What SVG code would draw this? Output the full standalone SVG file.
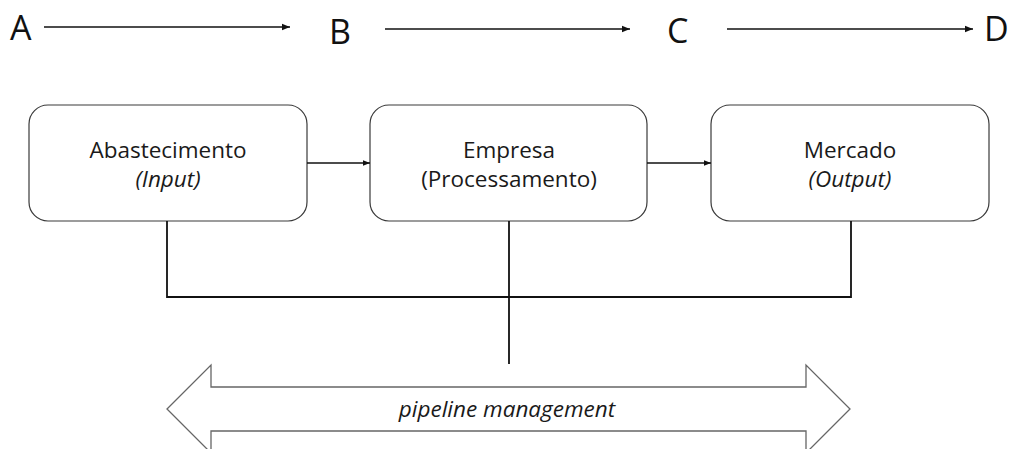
<svg xmlns="http://www.w3.org/2000/svg" width="1009" height="449" viewBox="0 0 1009 449">
  <style>
    .box { fill: #ffffff; stroke: #3a3a3a; stroke-width: 1.2; }
    .lbl { font-family: "Open Sans", "Liberation Sans", sans-serif; font-size: 22.5px; fill: #1a1a1a; text-anchor: middle; }
    .it { font-style: italic; }
    .big { font-family: "Open Sans", "Liberation Sans", sans-serif; font-size: 34px; fill: #111111; }
    .flow { stroke: #111111; stroke-width: 1.5; fill: none; }
    .link { stroke: #111111; stroke-width: 1.8; fill: none; }
  </style>
  <defs>
    <marker id="head" viewBox="0 0 10 10" refX="10" refY="5" markerWidth="7" markerHeight="7" orient="auto" markerUnits="userSpaceOnUse">
      <path d="M0,1 L10,5 L0,9 z" fill="#111111"/>
    </marker>
    <marker id="headL" viewBox="0 0 10 10" refX="10" refY="5" markerWidth="9" markerHeight="8" orient="auto" markerUnits="userSpaceOnUse">
      <path d="M0,1 L10,5 L0,9 z" fill="#111111"/>
    </marker>
  </defs>

  <!-- top sequence A to D -->
  <g id="seq-A"><text class="big" x="10" y="40">A</text></g>
  <g id="seq-B"><text class="big" x="329" y="44">B</text></g>
  <g id="seq-C"><text class="big" x="667" y="43">C</text></g>
  <g id="seq-D"><text class="big" x="984" y="41">D</text></g>

  <!-- supply chain stages -->
  <g id="abastecimento">
    <rect class="box" x="29" y="105" width="278" height="116" rx="19" ry="19"/>
    <text class="lbl" x="168" y="158">Abastecimento</text>
    <text class="lbl it" x="168" y="187">(Input)</text>
  </g>
  <g id="empresa">
    <rect class="box" x="370" y="105" width="277" height="116" rx="19" ry="19"/>
    <text class="lbl" x="509" y="158">Empresa</text>
    <text class="lbl" x="509" y="187">(Processamento)</text>
  </g>
  <g id="mercado">
    <rect class="box" x="711" y="105" width="278" height="116" rx="19" ry="19"/>
    <text class="lbl" x="850" y="158">Mercado</text>
    <text class="lbl it" x="850" y="187">(Output)</text>
  </g>

  <!-- pipeline management band -->
  <g id="pipeline">
    <polygon points="167,409 211,365 211,387 806,387 806,365 850,409 806,453 806,431 211,431 211,453" fill="#ffffff" stroke="#666666" stroke-width="1.3"/>
    <text class="lbl it" x="507" y="417" font-size="24.5">pipeline management</text>
  </g>

  <!-- connectors -->
  <g id="connectors">
    <line class="flow" x1="44" y1="27" x2="290" y2="27" marker-end="url(#headL)"/>
    <line class="flow" x1="385" y1="29" x2="630" y2="29" marker-end="url(#headL)"/>
    <line class="flow" x1="727" y1="29" x2="973" y2="29" marker-end="url(#headL)"/>
    <line class="flow" x1="307" y1="163" x2="370" y2="163" marker-end="url(#head)"/>
    <line class="flow" x1="647" y1="163" x2="711" y2="163" marker-end="url(#head)"/>
    <polyline class="link" points="167,221 167,297 851,297 851,221"/>
    <line class="link" x1="509" y1="221" x2="509" y2="364"/>
  </g>
</svg>
